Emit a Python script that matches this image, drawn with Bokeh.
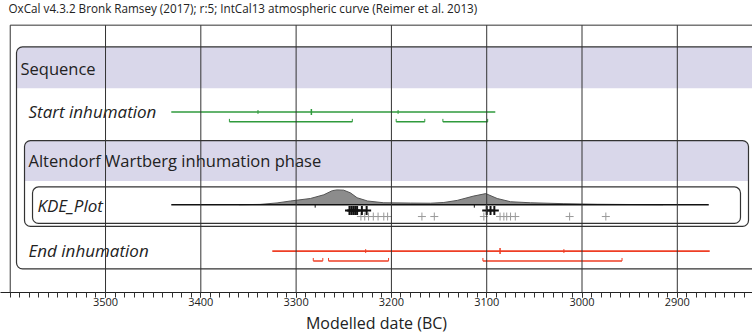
from bokeh.plotting import figure
from bokeh.models import Range1d, FixedTicker
from bokeh.core.properties import value
from bokeh.embed import file_html
from bokeh.resources import INLINE

# ---------------- data ----------------
title_text = "OxCal v4.3.2 Bronk Ramsey (2017); r:5; IntCal13 atmospheric curve (Reimer et al. 2013)"
axis_title = "Modelled date (BC)"
tick_years = [3500, 3400, 3300, 3200, 3100, 3000, 2900]
minor_years = list(range(3600, 2810, -10))

row_labels = ["Start inhumation", "KDE_Plot", "End inhumation"]
group_labels = ["Sequence", "Altendorf Wartberg inhumation phase"]

start_extent = [3431, 3091]
start_marks = [3340, 3193]
start_median = [3284]
start_range_from = [3370, 3195, 3146]
start_range_to = [3241, 3165, 3099]

end_extent = [3325, 2866]
end_marks = [3227, 3019]
end_median = [3086]
end_range_from = [3282, 3266, 3104]
end_range_to = [3272, 3203, 2958]

kde_extent = [3431, 2867]
kde_years = [3360, 3338, 3320, 3306, 3285, 3271, 3262, 3257, 3250, 3243, 3236,
             3225, 3208, 3180, 3159, 3145, 3131, 3114, 3101, 3089, 3075, 3054,
             3019, 2984, 2949, 2915]
kde_density = [0.0, 0.02, 0.12, 0.25, 0.42, 0.67, 0.95, 1.0, 0.98, 0.8, 0.47,
               0.25, 0.13, 0.11, 0.10, 0.15, 0.29, 0.58, 0.75, 0.42, 0.20, 0.13,
               0.07, 0.03, 0.013, 0.0]
kde_marks = [3280, 3113]
kde_black = [3244, 3242, 3240, 3238, 3236, 3231, 3226, 3100, 3096, 3092]
kde_grey = [3232, 3228, 3224, 3219, 3214, 3208, 3204, 3168, 3155, 3103, 3086,
            3082, 3079, 3075, 3070, 3013, 2975]

# ---------------- styling / layout ----------------
FONT = value("Open Sans")
GREEN = "#2f9a3c"
RED = "#ee3e25"
PURPLE = "#d9d7ea"
EDGE = "#333333"

p = figure(width=752, height=336, output_backend="svg", toolbar_location=None,
           x_range=Range1d(3610.2, 2821.1), y_range=Range1d(296, 0),
           y_axis_location=None, min_border_left=0, min_border_right=0,
           min_border_top=0, min_border_bottom=40)
p.outline_line_color = None
p.xgrid.visible = False
p.ygrid.visible = False
p.background_fill_color = "white"

# outer frame
p.segment(x0=[3600, 3600], y0=[25, 25], x1=[2800, 3600], y1=[25, 296],
          line_color=EDGE, line_width=1)

# Sequence box
p.quad(left=[3593.4], right=[2790], top=[47], bottom=[89], fill_color=PURPLE,
       line_color=None, border_radius=(6, 6, 0, 0))
p.quad(left=[3593.4], right=[2790], top=[47], bottom=[272], fill_color=None,
       line_color=EDGE, line_width=1.2, border_radius=6)
# Phase box
p.quad(left=[3585], right=[2825.3], top=[142], bottom=[183], fill_color=PURPLE,
       line_color=None, border_radius=(6, 6, 0, 0))
p.quad(left=[3585], right=[2825.3], top=[142], bottom=[229], fill_color=None,
       line_color=EDGE, line_width=1.2, border_radius=6)
# KDE box
p.quad(left=[3576.6], right=[2833.7], top=[189], bottom=[226], fill_color=None,
       line_color=EDGE, line_width=1.2, border_radius=6)

# group labels
p.text(x=[3589.2, 3580.8], y=[69, 162], text=group_labels, text_font=FONT,
       text_font_size="16.5px", text_baseline="middle", text_color="#222222")
# row labels
p.text(x=[3580.8, 3571.4, 3580.8], y=[113, 208, 253], text=row_labels, text_font=FONT,
       text_font_size="17px", text_font_style="italic", text_baseline="middle",
       text_color="#222222")
# title
p.text(x=[3601.8], y=[7.5], text=[title_text], text_font=FONT, text_font_size="11.7px",
       text_baseline="middle", text_color="#222222")

# ---- Start inhumation ----
ys = 113
p.line(x=start_extent, y=[ys, ys], line_color=GREEN, line_width=1.5)
p.segment(x0=start_marks, y0=[ys - 2] * len(start_marks), x1=start_marks,
          y1=[ys + 2] * len(start_marks), line_color=GREEN, line_width=1)
p.segment(x0=start_median, y0=[ys - 3], x1=start_median, y1=[ys + 3],
          line_color=GREEN, line_width=1.5)
yb = 123
n = len(start_range_from)
p.segment(x0=start_range_from, y0=[yb] * n, x1=start_range_to, y1=[yb] * n,
          line_color=GREEN, line_width=1.5)
p.segment(x0=start_range_from + start_range_to, y0=[yb] * (2 * n),
          x1=start_range_from + start_range_to, y1=[yb - 3] * (2 * n),
          line_color=GREEN, line_width=1)

# ---- KDE plot ----
yk = 207
p.varea(x=kde_years, y1=[yk] * len(kde_years), y2=[yk - 15 * d for d in kde_density],
        fill_color="#8c8c8c")
p.line(x=kde_years, y=[yk - 15 * d for d in kde_density], line_color="#555555",
       line_width=1)
p.line(x=kde_extent, y=[yk, yk], line_color="#111111", line_width=1.6)
p.segment(x0=kde_marks, y0=[yk] * 2, x1=kde_marks, y1=[yk + 3] * 2,
          line_color="#111111", line_width=1)
p.scatter(x=kde_grey, y=[219] * len(kde_grey), marker="cross", size=8,
          line_color="#999999", line_width=1)
p.scatter(x=kde_black, y=[213] * len(kde_black), marker="cross", size=9,
          line_color="#111111", line_width=2)

# ---- End inhumation ----
ye = 254
p.line(x=end_extent, y=[ye, ye], line_color=RED, line_width=1.8)
p.segment(x0=end_marks, y0=[ye - 2] * len(end_marks), x1=end_marks,
          y1=[ye + 2] * len(end_marks), line_color=RED, line_width=1)
p.segment(x0=end_median, y0=[ye - 3], x1=end_median, y1=[ye + 3],
          line_color=RED, line_width=1.5)
yb2 = 264
n2 = len(end_range_from)
p.segment(x0=end_range_from, y0=[yb2] * n2, x1=end_range_to, y1=[yb2] * n2,
          line_color=RED, line_width=1.5)
p.segment(x0=end_range_from + end_range_to, y0=[yb2] * (2 * n2),
          x1=end_range_from + end_range_to, y1=[yb2 - 3] * (2 * n2),
          line_color=RED, line_width=1)

# grid lines drawn on top
p.segment(x0=tick_years, y0=[25] * len(tick_years), x1=tick_years,
          y1=[296] * len(tick_years), line_color=EDGE, line_width=1)

# axis
ax = p.xaxis[0]
ax.ticker = FixedTicker(ticks=tick_years, minor_ticks=minor_years)
ax.axis_label = axis_title
ax.axis_label_text_font = "Open Sans"
ax.axis_label_text_font_size = "16px"
ax.axis_label_text_font_style = "normal"
ax.axis_label_text_color = "#222222"
ax.axis_label_standoff = 3
ax.major_label_text_font = "Open Sans"
ax.major_label_text_font_size = "11px"
ax.major_label_text_color = "#222222"
ax.major_label_standoff = 0
ax.axis_line_color = "#222222"
ax.major_tick_in = 0
ax.major_tick_out = 5
ax.minor_tick_in = 0
ax.minor_tick_out = 5
ax.major_tick_line_color = "#333333"
ax.minor_tick_line_color = "#333333"

open("out.html", "w").write(file_html(p, INLINE))
